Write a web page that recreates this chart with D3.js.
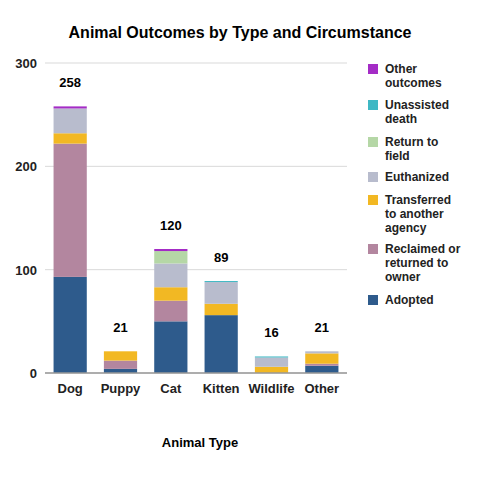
<!DOCTYPE html>
<html><head><meta charset="utf-8">
<script src="https://cdn.jsdelivr.net/npm/d3@7"></script>
<style>body{margin:0;background:#fff;font-family:"Liberation Sans",Arial,sans-serif}</style>
</head><body><div id="chart"></div>
<script>
const categories = ['Dog', 'Puppy', 'Cat', 'Kitten', 'Wildlife', 'Other'];
const seriesNames = ['Adopted', 'Reclaimed or returned to owner', 'Transferred to another agency', 'Euthanized', 'Return to field', 'Unassisted death', 'Other outcomes'];
const adopted      = [93, 4, 50, 56, 0, 7];
const reclaimed    = [129, 8, 20, 0, 0, 2];
const transferred  = [10, 9, 13, 11, 6, 10];
const euthanized   = [24, 0, 23, 21, 9, 2];
const returnField  = [0, 0, 12, 0, 0, 0];
const unassisted   = [0, 0, 0, 1, 1, 0];
const otherOut     = [2, 0, 2, 0, 0, 0];
const yTicks = [0, 100, 200, 300];
const colors = ['#2e5b8c', '#b3869f', '#f2b823', '#b8bccd', '#b5d7a6', '#3fb8c4', '#a42cc6'];
const legendLines = [['Adopted'], ['Reclaimed or', 'returned to', 'owner'], ['Transferred', 'to another', 'agency'], ['Euthanized'], ['Return to', 'field'], ['Unassisted', 'death'], ['Other', 'outcomes']];

const seriesVals = [adopted, reclaimed, transferred, euthanized, returnField, unassisted, otherOut];
const rows = categories.map((c, i) => {
  const r = {cat: c};
  seriesNames.forEach((s, j) => r[s] = seriesVals[j][i]);
  return r;
});
const totals = categories.map((c, i) => d3.sum(seriesVals, v => v[i]));

const W = 480, H = 480;
const margin = {left: 45, right: 133, top: 63, bottom: 107};
const svg = d3.select('#chart').append('svg').attr('width', W).attr('height', H);

const x = d3.scaleBand().domain(categories).range([margin.left, W - margin.right]).paddingInner(0.34).paddingOuter(0.17);
const y = d3.scaleLinear().domain([0, 300]).range([H - margin.bottom, margin.top]);

svg.append('g').selectAll('line').data(yTicks).join('line')
  .attr('x1', margin.left).attr('x2', W - margin.right)
  .attr('y1', d => y(d)).attr('y2', d => y(d))
  .attr('stroke', '#d9d9d9');

const stack = d3.stack().keys(seriesNames)(rows);
svg.append('g').selectAll('g').data(stack).join('g')
  .attr('fill', (d, i) => colors[i])
  .selectAll('rect').data(d => d).join('rect')
  .attr('x', d => x(d.data.cat)).attr('width', x.bandwidth())
  .attr('y', d => y(d[1])).attr('height', d => y(d[0]) - y(d[1]));

svg.append('line').attr('x1', margin.left).attr('x2', W - margin.right)
  .attr('y1', y(0)).attr('y2', y(0)).attr('stroke', '#999').attr('stroke-width', 1.5);

svg.append('g').selectAll('text').data(categories).join('text')
  .attr('x', (d, i) => x(d) + x.bandwidth() / 2).attr('y', (d, i) => y(totals[i]) - 19)
  .attr('text-anchor', 'middle').attr('font-size', 13).attr('font-weight', 'bold')
  .text((d, i) => totals[i]);

svg.append('g').selectAll('text').data(yTicks).join('text')
  .attr('x', margin.left - 8).attr('y', d => y(d) + 5)
  .attr('text-anchor', 'end').attr('font-size', 13).attr('font-weight', 'bold').attr('fill', '#222')
  .text(d => d);

svg.append('g').selectAll('text').data(categories).join('text')
  .attr('x', d => x(d) + x.bandwidth() / 2).attr('y', y(0) + 20)
  .attr('text-anchor', 'middle').attr('font-size', 13).attr('font-weight', 'bold').attr('fill', '#222')
  .text(d => d);

svg.append('text').attr('x', 200).attr('y', 447).attr('text-anchor', 'middle')
  .attr('font-size', 13).attr('font-weight', 'bold').text('Animal Type');

svg.append('text').attr('x', 240).attr('y', 38).attr('text-anchor', 'middle')
  .attr('font-size', 16).attr('font-weight', 'bold').text('Animal Outcomes by Type and Circumstance');

// legend, listed top-down in reverse series order
const order = [6, 5, 4, 3, 2, 1, 0];
const legendY = [64, 100, 137, 172, 195, 244, 295];
order.forEach((si, k) => {
  const g = svg.append('g').attr('transform', `translate(368,${legendY[k]})`);
  g.append('rect').attr('width', 10).attr('height', 10).attr('fill', colors[si]);
  g.append('text').attr('x', 17).attr('y', 9).attr('font-size', 12).attr('font-weight', 'bold').attr('fill', '#222')
    .selectAll('tspan').data(legendLines[si]).join('tspan')
    .attr('x', 17).attr('dy', (d, i) => i ? 14 : 0).text(d => d);
});
</script></body></html>
